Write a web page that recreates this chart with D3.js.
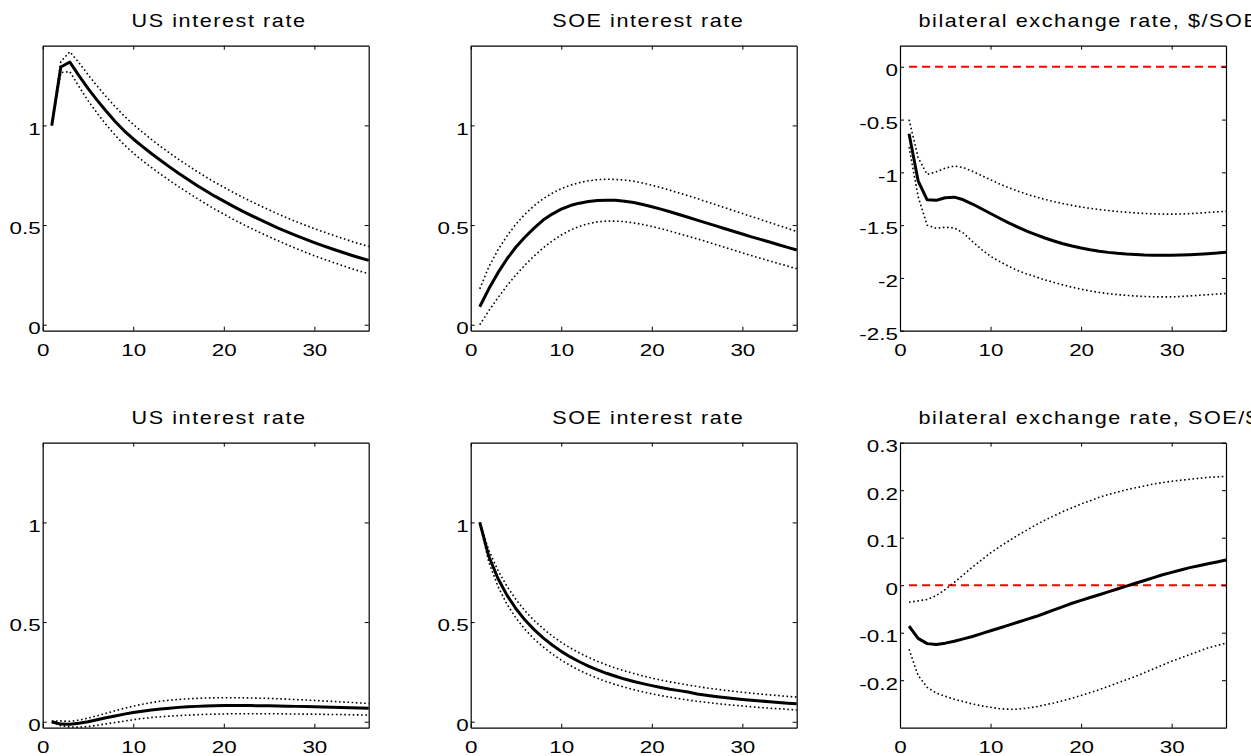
<!DOCTYPE html>
<html><head><meta charset="utf-8">
<script src="https://cdn.jsdelivr.net/npm/d3@7"></script>
<style>
html,body{margin:0;padding:0;background:#fff;}
svg{display:block;}
text{font-family:"Liberation Sans",Arial,Helvetica,sans-serif;fill:#000;}
</style></head>
<body>
<svg id="chart" width="1251" height="756"></svg>
<script>
// ---------- DATA ----------
const periods = d3.range(1, 37);
const xTicks = [0, 10, 20, 30];
const rateTicks = [0, 0.5, 1];
const fxTicksTop = [-2.5, -2, -1.5, -1, -0.5, 0];
const fxTicksBottom = [-0.2, -0.1, 0, 0.1, 0.2, 0.3];
const titles = ["US interest rate", "SOE interest rate", "bilateral exchange rate, $/SOE",
                "US interest rate", "SOE interest rate", "bilateral exchange rate, SOE/$"];

// Panel 1: US interest rate, US shock
const usRateUS_med = [1.00,1.293,1.318,1.250,1.186,1.127,1.072,1.020,0.973,0.932,0.895,0.859,0.825,0.792,0.760,0.730,0.700,0.672,0.645,0.620,0.595,0.571,0.549,0.527,0.506,0.485,0.466,0.447,0.429,0.412,0.396,0.380,0.365,0.350,0.336,0.323];
const usRateUS_hi  = [1.00,1.32,1.37,1.315,1.255,1.198,1.145,1.094,1.047,1.005,0.967,0.930,0.895,0.862,0.830,0.800,0.770,0.742,0.715,0.690,0.665,0.641,0.619,0.597,0.576,0.555,0.536,0.517,0.499,0.482,0.466,0.450,0.435,0.420,0.406,0.392];
const usRateUS_lo  = [1.00,1.265,1.27,1.195,1.125,1.062,1.004,0.951,0.903,0.861,0.824,0.789,0.756,0.724,0.693,0.664,0.635,0.607,0.580,0.555,0.530,0.506,0.484,0.462,0.441,0.421,0.401,0.382,0.364,0.346,0.330,0.314,0.298,0.283,0.269,0.256];

// Panel 2: SOE interest rate, US shock
const soeRateUS_med = [0.09,0.18,0.26,0.33,0.39,0.44,0.485,0.525,0.555,0.58,0.598,0.61,0.618,0.623,0.625,0.624,0.62,0.613,0.603,0.592,0.580,0.567,0.553,0.539,0.525,0.511,0.497,0.483,0.469,0.455,0.441,0.428,0.415,0.401,0.388,0.375];
const soeRateUS_hi  = [0.18,0.29,0.375,0.445,0.505,0.555,0.597,0.632,0.66,0.683,0.70,0.713,0.722,0.728,0.73,0.729,0.726,0.72,0.711,0.70,0.688,0.675,0.661,0.647,0.633,0.618,0.603,0.588,0.573,0.558,0.543,0.528,0.513,0.498,0.483,0.468];
const soeRateUS_lo  = [0.0,0.07,0.135,0.195,0.25,0.30,0.345,0.385,0.42,0.45,0.475,0.493,0.507,0.516,0.52,0.52,0.517,0.511,0.503,0.493,0.482,0.47,0.457,0.444,0.431,0.417,0.403,0.389,0.375,0.361,0.347,0.333,0.32,0.307,0.294,0.281];

// Panel 3: bilateral exchange rate $/SOE, US shock
const fxUS_med = [-0.634,-1.08,-1.26,-1.265,-1.24,-1.235,-1.26,-1.30,-1.345,-1.39,-1.435,-1.478,-1.518,-1.556,-1.59,-1.622,-1.65,-1.676,-1.698,-1.717,-1.733,-1.747,-1.758,-1.767,-1.774,-1.779,-1.783,-1.785,-1.786,-1.785,-1.783,-1.78,-1.776,-1.771,-1.765,-1.757];
const fxUS_hi  = [-0.50,-0.86,-1.02,-0.995,-0.96,-0.94,-0.955,-0.99,-1.03,-1.07,-1.11,-1.145,-1.178,-1.207,-1.233,-1.256,-1.277,-1.296,-1.313,-1.328,-1.341,-1.352,-1.362,-1.371,-1.378,-1.384,-1.389,-1.393,-1.395,-1.396,-1.394,-1.391,-1.386,-1.38,-1.374,-1.368];
const fxUS_lo  = [-0.76,-1.23,-1.50,-1.53,-1.52,-1.527,-1.575,-1.655,-1.73,-1.795,-1.845,-1.89,-1.93,-1.962,-1.99,-2.018,-2.043,-2.066,-2.088,-2.107,-2.123,-2.137,-2.149,-2.158,-2.165,-2.171,-2.176,-2.179,-2.18,-2.179,-2.176,-2.171,-2.165,-2.159,-2.153,-2.148];

// Panel 4: US interest rate, SOE shock
const usRateSOE_med = [0.0,-0.012,-0.013,-0.008,0.0,0.01,0.02,0.029,0.038,0.046,0.053,0.059,0.064,0.068,0.072,0.075,0.077,0.079,0.08,0.081,0.081,0.081,0.081,0.08,0.08,0.079,0.078,0.077,0.076,0.075,0.074,0.072,0.071,0.07,0.069,0.068];
const usRateSOE_hi  = [0.003,0.004,0.002,0.008,0.018,0.03,0.042,0.055,0.067,0.078,0.088,0.096,0.103,0.108,0.112,0.115,0.117,0.119,0.12,0.12,0.12,0.12,0.119,0.118,0.117,0.115,0.113,0.111,0.109,0.107,0.104,0.102,0.099,0.097,0.094,0.092];
const usRateSOE_lo  = [-0.003,-0.02,-0.026,-0.027,-0.024,-0.018,-0.011,-0.004,0.003,0.01,0.016,0.021,0.025,0.028,0.031,0.033,0.035,0.037,0.038,0.039,0.04,0.04,0.04,0.04,0.04,0.04,0.039,0.039,0.038,0.038,0.037,0.036,0.036,0.035,0.034,0.033];

// Panel 5: SOE interest rate, SOE shock
const soeRateSOE_med = [1.00,0.83,0.72,0.635,0.567,0.51,0.462,0.421,0.385,0.353,0.325,0.301,0.279,0.26,0.243,0.228,0.214,0.202,0.191,0.181,0.172,0.163,0.156,0.149,0.139,0.133,0.127,0.122,0.117,0.112,0.108,0.104,0.10,0.096,0.093,0.09];
const soeRateSOE_hi  = [1.00,0.86,0.76,0.68,0.613,0.556,0.508,0.467,0.43,0.398,0.37,0.345,0.323,0.303,0.285,0.269,0.255,0.242,0.23,0.219,0.209,0.20,0.192,0.184,0.177,0.17,0.164,0.158,0.153,0.148,0.143,0.139,0.135,0.131,0.127,0.124];
const soeRateSOE_lo  = [1.00,0.80,0.68,0.59,0.52,0.463,0.415,0.375,0.34,0.309,0.282,0.258,0.237,0.218,0.201,0.186,0.173,0.161,0.15,0.14,0.131,0.123,0.116,0.109,0.103,0.097,0.092,0.087,0.083,0.079,0.075,0.071,0.068,0.065,0.062,0.059];

// Panel 6: bilateral exchange rate SOE/$, SOE shock
const fxSOE_med = [-0.086,-0.112,-0.123,-0.125,-0.122,-0.118,-0.113,-0.108,-0.102,-0.096,-0.09,-0.084,-0.078,-0.072,-0.066,-0.059,-0.052,-0.045,-0.038,-0.032,-0.026,-0.02,-0.014,-0.008,-0.002,0.004,0.01,0.016,0.022,0.027,0.032,0.037,0.041,0.045,0.049,0.053];
const fxSOE_hi  = [-0.036,-0.033,-0.03,-0.022,-0.009,0.006,0.022,0.038,0.053,0.068,0.081,0.093,0.105,0.116,0.127,0.137,0.146,0.155,0.163,0.171,0.178,0.185,0.191,0.196,0.201,0.205,0.209,0.213,0.216,0.219,0.221,0.223,0.225,0.227,0.228,0.229];
const fxSOE_lo  = [-0.135,-0.19,-0.215,-0.227,-0.234,-0.24,-0.245,-0.25,-0.254,-0.257,-0.26,-0.261,-0.261,-0.259,-0.256,-0.252,-0.248,-0.243,-0.238,-0.232,-0.226,-0.22,-0.213,-0.206,-0.199,-0.192,-0.184,-0.176,-0.168,-0.16,-0.153,-0.146,-0.139,-0.132,-0.127,-0.122];

// ---------- LAYOUT ----------
const colLeft = [42.7, 470.7, 900];
const rowTop = [45.7, 442.7];
const W = 326, H = 285;
const TXT_SX = 1.4, TITLE_SX = 1.2, TITLE_SPREAD = 1.18;

const panels = [
  {title: titles[0], med: usRateUS_med, hi: usRateUS_hi, lo: usRateUS_lo, ydom: [-0.03, 1.4], yticks: rateTicks, zero: false, c: 0, r: 0},
  {title: titles[1], med: soeRateUS_med, hi: soeRateUS_hi, lo: soeRateUS_lo, ydom: [-0.03, 1.4], yticks: rateTicks, zero: false, c: 1, r: 0},
  {title: titles[2], med: fxUS_med, hi: fxUS_hi, lo: fxUS_lo, ydom: [-2.5, 0.2], yticks: fxTicksTop, zero: true, c: 2, r: 0},
  {title: titles[3], med: usRateSOE_med, hi: usRateSOE_hi, lo: usRateSOE_lo, ydom: [-0.03, 1.4], yticks: rateTicks, zero: false, c: 0, r: 1},
  {title: titles[4], med: soeRateSOE_med, hi: soeRateSOE_hi, lo: soeRateSOE_lo, ydom: [-0.03, 1.4], yticks: rateTicks, zero: false, c: 1, r: 1},
  {title: titles[5], med: fxSOE_med, hi: fxSOE_hi, lo: fxSOE_lo, ydom: [-0.3, 0.3], yticks: fxTicksBottom, zero: true, c: 2, r: 1}
];

const svg = d3.select("#chart");
const fmt = d => String(+d.toFixed(2)).replace("\u2212", "-");

panels.forEach(p => {
  const g = svg.append("g").attr("transform", `translate(${colLeft[p.c]},${rowTop[p.r]})`);
  const x = d3.scaleLinear().domain([0, 36]).range([0, W]);
  const y = d3.scaleLinear().domain(p.ydom).range([H, 0]);

  // title: left edge where a natural-width centred title would start, then spread
  const t = g.append("text")
    .attr("text-anchor", "start")
    .style("font-size", "18px")
    .style("letter-spacing", "1.3px")
    .text(p.title);
  const tw = t.node().getBBox().width * TITLE_SX;
  const tx = W / 2 - tw / (2 * TITLE_SPREAD);
  t.attr("transform", `translate(${tx},-19) scale(${TITLE_SX},1)`);

  // zero line
  if (p.zero) {
    g.append("line")
      .attr("x1", x(1)).attr("x2", x(36))
      .attr("y1", y(0)).attr("y2", y(0))
      .attr("stroke", "#ff0000").attr("stroke-width", 2)
      .attr("stroke-dasharray", "8,5");
  }

  const line = arr => d3.line().x((d, i) => x(periods[i])).y(d => y(d))(arr);
  [p.hi, p.lo].forEach(arr => {
    g.append("path").attr("d", line(arr))
      .attr("fill", "none").attr("stroke", "#000")
      .attr("stroke-width", 1.6).attr("stroke-dasharray", "1.6,2.6");
  });
  g.append("path").attr("d", line(p.med))
    .attr("fill", "none").attr("stroke", "#000")
    .attr("stroke-width", 3).attr("stroke-linejoin", "round");

  // axes (ticks inward, box on)
  const ax = [
    {a: d3.axisBottom(x).tickValues(xTicks).tickSizeInner(-4).tickSizeOuter(0).tickPadding(14).tickFormat(d3.format("d")), t: `translate(0,${H})`, lab: true},
    {a: d3.axisTop(x).tickValues(xTicks).tickSizeInner(-4).tickSizeOuter(0).tickFormat(""), t: `translate(0,0)`, lab: false},
    {a: d3.axisLeft(y).tickValues(p.yticks).tickSizeInner(-4).tickSizeOuter(0).tickPadding(1.5).tickFormat(fmt), t: `translate(0,0)`, lab: true, left: true},
    {a: d3.axisRight(y).tickValues(p.yticks).tickSizeInner(-4).tickSizeOuter(0).tickFormat(""), t: `translate(${W},0)`, lab: false}
  ];
  ax.forEach(o => {
    const ag = g.append("g").attr("transform", o.t).call(o.a);
    ag.select(".domain").attr("stroke", "#000").attr("stroke-width", 1.2);
    ag.selectAll(".tick line").attr("stroke", "#000").attr("stroke-width", 1);
    ag.selectAll(".tick text")
      .style("font-size", "16px")
      .attr("font-family", null)
      .attr("fill", "#000");
    if (o.lab) {
      ag.selectAll(".tick text").attr("transform", `scale(${TXT_SX},1)`);
      if (o.left) ag.selectAll(".tick text").attr("dy", "0.55em");
    }
  });
});
</script>
</body></html>
